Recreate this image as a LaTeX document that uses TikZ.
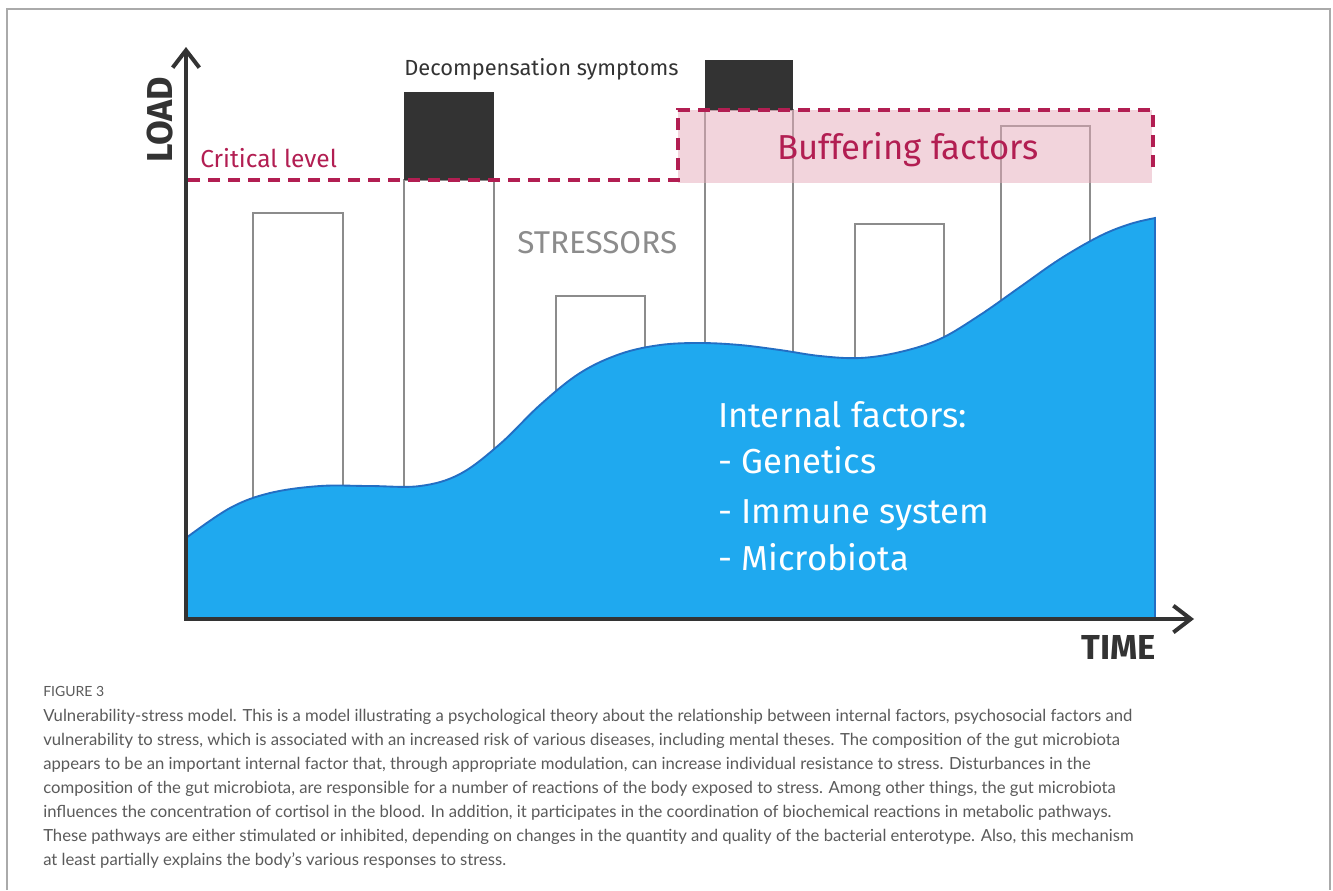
\documentclass[tikz,border=0pt]{standalone}
\usepackage{fontspec}
\usetikzlibrary{arrows.meta}
\newfontfamily\labelfont{Fira Sans}
\newfontfamily\capfont{Lato}
\definecolor{axisdark}{RGB}{51,51,51}
\definecolor{bargray}{RGB}{140,140,140}
\definecolor{crimson}{RGB}{178,30,82}
\definecolor{bufpink}{RGB}{230,170,185}
\definecolor{skyfill}{RGB}{31,169,239}
\definecolor{skyline}{RGB}{35,110,195}
\definecolor{capgray}{RGB}{90,90,90}
\definecolor{framegray}{RGB}{170,170,170}
\begin{document}
\begin{tikzpicture}[x=0.75pt,y=-0.75pt,
  stressbar/.style={draw=bargray,line width=1.5pt},
  symptom/.style={fill=axisdark},
  critdash/.style={draw=crimson,line width=3pt,dash pattern=on 9pt off 6pt},
  axisline/.style={draw=axisdark,line width=3pt,line join=miter,
    {Straight Barb[length=13pt,width=20pt]}-{Straight Barb[length=13pt,width=20pt]}},
  lbl/.style={inner sep=0pt,anchor=base west},
  caption/.style={inner sep=0pt,anchor=base west,text=capgray,font=\capfont\fontsize{12.5}{14}\selectfont}]
\useasboundingbox (0,0) rectangle (1333,890);

% page frame
\draw[framegray,line width=1.1pt] (7,890) -- (7,9) -- (1330,9) -- (1330,890);

% stressor bars
\draw[stressbar] (253,213) rectangle (343,619);
\draw[stressbar] (404,180) rectangle (494,619);
\draw[stressbar] (556,296) rectangle (645,619);
\draw[stressbar] (705,110) rectangle (793,619);
\draw[stressbar] (855,224) rectangle (944,619);
\draw[stressbar] (1001,126) rectangle (1090,619);

% decompensation parts of the bars
\fill[symptom] (404,92) rectangle (494,180);
\fill[symptom] (705,60) rectangle (793,110);

% buffering zone
\fill[bufpink,fill opacity=0.5] (678,110) rectangle (1152,183);

% internal factors curve
\draw[skyline,line width=1.4pt,fill=skyfill]
  (186,619) -- plot[smooth,tension=0.6] coordinates {
    (186,538) (230,508) (270,493) (320,486) (370,486) (420,486)
    (460,474) (500,444) (540,405) (580,373) (620,354) (660,345)
    (700,343) (740,345) (780,350) (820,356) (860,358) (900,352)
    (940,339) (980,315) (1020,287) (1060,259) (1100,236) (1130,224)
    (1155,218)} -- (1155,619) -- cycle;

% critical level and buffer outline
\draw[critdash] (188,180) -- (678,180) -- (678,110) -- (1153,110) -- (1153,172);

% axes
\coordinate (origin) at (186,619);
\coordinate (ytip) at (186,47);
\coordinate (xtip) at (1194,619);
\draw[axisline] (ytip) -- (origin) -- (xtip);

% labels
\node[lbl,rotate=90,text=axisdark,font=\labelfont\bfseries\fontsize{27}{30}\selectfont] (load) at (172,163) {LOAD};
\node[lbl,anchor=base east,text=axisdark,font=\labelfont\bfseries\fontsize{26}{30}\selectfont] (time) at (1156,659) {TIME};
\node[lbl,text=crimson,font=\labelfont\fontsize{18.4}{20}\selectfont] (critical) at (200,167) {Critical level};
\node[lbl,text=axisdark,font=\labelfont\fontsize{16.4}{18}\selectfont] (decomp) at (404,75) {Decompensation symptoms};
\node[lbl,anchor=base,text=crimson,font=\labelfont\fontsize{26}{30}\selectfont] (buffer) at (908,159) {Buffering factors};
\node[lbl,text=bargray,font=\labelfont\fontsize{23.6}{26}\selectfont] (stressors) at (517,253) {STRESSORS};
\node[lbl,text=white,font=\labelfont\fontsize{26}{30}\selectfont] (internal) at (718,427) {Internal factors:};
\node[lbl,text=white,font=\labelfont\fontsize{26}{30}\selectfont] (genetics) at (718,473) {- Genetics};
\node[lbl,text=white,font=\labelfont\fontsize{26}{30}\selectfont] (immune) at (718,523) {- Immune system};
\node[lbl,text=white,font=\labelfont\fontsize{26}{30}\selectfont] (microbiota) at (718,570) {- Microbiota};

% caption
\node[caption,font=\capfont\fontsize{10.5}{12}\selectfont] (fig) at (43,696) {FIGURE 3};
\node[caption] (cap1) at (43,721) {Vulnerability-stress model. This is a model illustrating a psychological theory about the relationship between internal factors, psychosocial factors and};
\node[caption] (cap2) at (43,745) {vulnerability to stress, which is associated with an increased risk of various diseases, including mental theses. The composition of the gut microbiota};
\node[caption] (cap3) at (43,769) {appears to be an important internal factor that, through appropriate modulation, can increase individual resistance to stress. Disturbances in the};
\node[caption] (cap4) at (43,793) {composition of the gut microbiota, are responsible for a number of reactions of the body exposed to stress. Among other things, the gut microbiota};
\node[caption] (cap5) at (43,817) {influences the concentration of cortisol in the blood. In addition, it participates in the coordination of biochemical reactions in metabolic pathways.};
\node[caption] (cap6) at (43,841) {These pathways are either stimulated or inhibited, depending on changes in the quantity and quality of the bacterial enterotype. Also, this mechanism};
\node[caption] (cap7) at (43,865) {at least partially explains the body’s various responses to stress.};
\end{tikzpicture}
\end{document}
